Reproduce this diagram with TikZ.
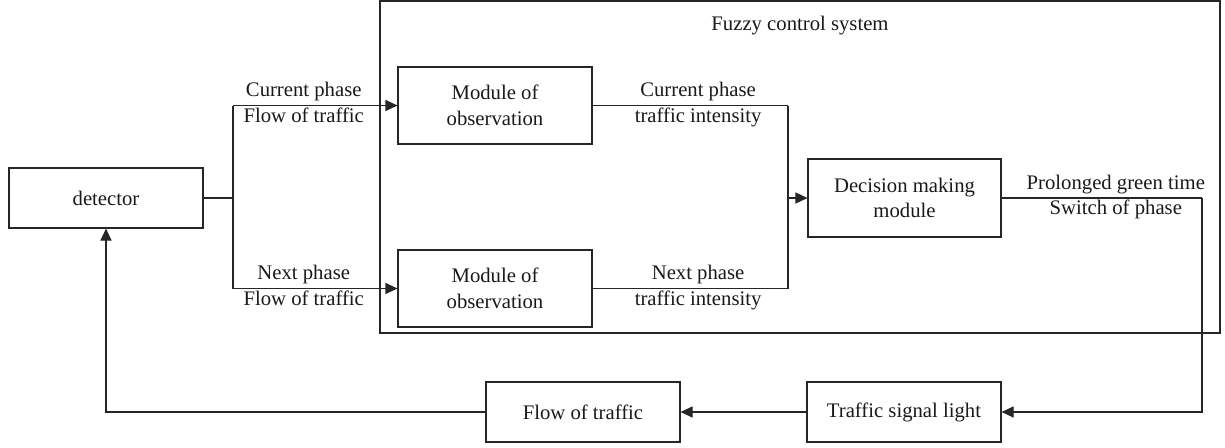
\documentclass[tikz,border=0pt]{standalone}
\usepackage{fontspec}
\setmainfont{Liberation Serif}
\usetikzlibrary{arrows.meta}
\begin{document}
\begin{tikzpicture}[x=1pt,y=-1pt, line width=1.1pt, draw=black!85,
  box/.style={draw=black!85, text=black!90, inner sep=0pt, align=center,
    font=\fontsize{20.7}{25.6}\selectfont},
  lbl/.style={font=\fontsize{20.7}{25.6}\selectfont, text=black!90, inner sep=0pt, anchor=base},
  arr/.style={-{Triangle[length=12pt,width=11pt]}}]
\useasboundingbox (0,0) rectangle (1225,447);
% fuzzy system frame
\node[box, minimum width=840, minimum height=332] (fz) at (800,167) {};
\node[lbl] (fzt) at (800,30) {Fuzzy control system};
% boxes
\node[box, minimum width=194, minimum height=60] (det) at (106,198) {detector};
\node[box, minimum width=194, minimum height=77] (ob1) at (495,105.5) {Module of\\observation};
\node[box, minimum width=194, minimum height=77] (ob2) at (495,288.5) {Module of\\observation};
\node[box, minimum width=193, minimum height=78] (dm) at (904.5,198) {Decision making\\module};
\node[box, minimum width=194, minimum height=60] (fl) at (583,412) {Flow of traffic};
\node[box, minimum width=194, minimum height=60] (ts) at (904,412) {Traffic signal light};
% junction points
\coordinate (br) at (233,198);
\coordinate (jn) at (788,198);
\coordinate (rt) at (1202,198);
% detector to observation modules
\draw (det.east) -- (br);
\draw (ob1.west -| br) -- (ob2.west -| br);
\draw[arr] (ob1.west -| br) -- node[lbl, pos=.43, yshift=9pt] {Current phase}
  node[lbl, pos=.43, yshift=-17pt] {Flow of traffic} (ob1.west);
\draw[arr] (ob2.west -| br) -- node[lbl, pos=.43, yshift=9pt] {Next phase}
  node[lbl, pos=.43, yshift=-17pt] {Flow of traffic} (ob2.west);
% observation modules to decision module
\draw (ob1.east) -- node[lbl, pos=.54, yshift=9pt] {Current phase}
  node[lbl, pos=.54, yshift=-17pt] {traffic intensity} (ob1.east -| jn);
\draw (ob2.east) -- node[lbl, pos=.54, yshift=9pt] {Next phase}
  node[lbl, pos=.54, yshift=-17pt] {traffic intensity} (ob2.east -| jn);
\draw (ob1.east -| jn) -- (ob2.east -| jn);
\draw[arr] (jn) -- (dm.west);
% decision output to signal light
\draw (dm.east) -- node[lbl, pos=.57, yshift=9pt] {Prolonged green time}
  node[lbl, pos=.57, yshift=-16pt] {Switch of phase} (rt);
\draw[arr] (rt) |- (ts.east);
\draw[arr] (ts.west) -- (fl.east);
\draw[arr] (fl.west) -| (det.south);
\end{tikzpicture}
\end{document}
